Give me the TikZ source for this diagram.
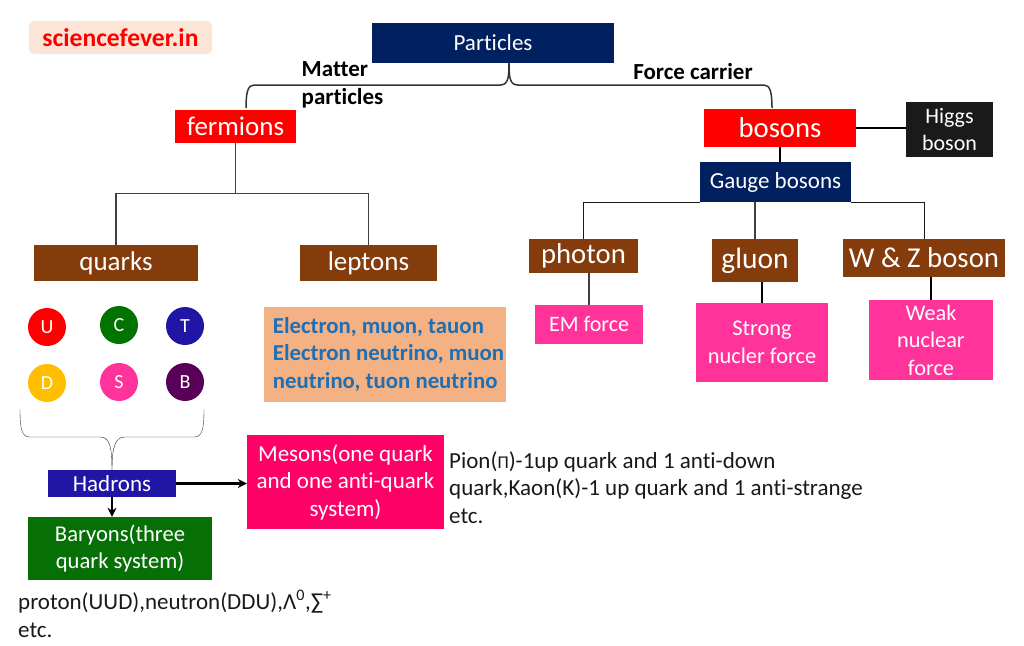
\documentclass[tikz,border=0pt]{standalone}
\usepackage{fontspec}
\usepackage{xcolor}
\setmainfont[Ligatures=NoCommon]{Carlito}
\definecolor{navy}{HTML}{002060}
\definecolor{brownbox}{HTML}{843C0C}
\definecolor{pinkbox}{HTML}{FF3399}
\definecolor{orangebox}{HTML}{F4B183}
\definecolor{bluetext}{HTML}{1F6FB5}
\definecolor{hadblue}{HTML}{2115A5}
\definecolor{bargreen}{HTML}{067006}
\definecolor{mesred}{HTML}{FF0066}
\definecolor{higgsblack}{HTML}{1A1A1A}
\definecolor{peach}{HTML}{FBE5D6}
\usetikzlibrary{arrows.meta}
\def\fs#1#2{\fontsize{#1pt}{#2pt}\selectfont}
\tikzset{bx/.style n args={4}{inner sep=0,text=white,align=center,minimum width=#1pt,minimum height=#2pt,fill=#3,font=\fs{#4}{27.5}}}
\tikzstyle{qk}=[circle,inner sep=0,minimum size=38pt,text=white,font=\fs{20}{20}]
\tikzstyle{plain}=[inner sep=0,align=left,text=black!90,font=\fs{23}{27.5}]
\tikzstyle{lab}=[inner sep=0,align=left,text=black,font=\fs{23}{27.5}\bfseries]
\tikzstyle{link}=[draw=black!75,line width=1.1pt]
\tikzstyle{curve}=[draw=black!80,line width=1.5pt]
\tikzstyle{arr}=[-{Stealth[length=9pt,width=9pt]},line width=2.4pt]
\begin{document}
\begin{tikzpicture}[x=1pt,y=-1pt]
\useasboundingbox (0,0) rectangle (1024,645);
% top of the tree
\node[bx={183}{33}{peach}{25.6},rounded corners=5pt,text=red] (site) at (120.5,37.5) {\bfseries sciencefever.in};
\node[bx={242}{40}{navy}{23}] (parts) at (493,43) {Particles};
\node[bx={121}{33}{red}{27}] (ferm) at (235.5,126.5) {fermions};
\node[bx={152}{38}{red}{28.7}] (bos) at (780,128) {bosons};
\node[bx={87}{55}{higgsblack}{22}] (higgs) at (949.5,129.5) {Higgs\\boson};
\node[bx={151}{40}{navy}{23}] (gauge) at (775.5,182) {Gauge bosons};
\node[lab] (mat) at (342.5,85) {Matter\\particles};
\node[lab] (carrier) at (693,72) {Force carrier};
\coordinate (fermtop) at (246,108);
\coordinate (bostop) at (772,108);
% second row
\node[bx={164}{36}{brownbox}{27}] (quarks) at (116,263) {quarks};
\node[bx={137}{36}{brownbox}{27}] (lept) at (368.5,263) {leptons};
\node[bx={109}{34}{brownbox}{28.7}] (phot) at (583.5,256) {photon};
\node[bx={86}{43}{brownbox}{29.5}] (gluon) at (755,260.5) {gluon};
\node[bx={162}{38}{brownbox}{28.8}] (wz) at (924,258) {W \& Z boson};
\node[bx={108}{39}{pinkbox}{22}] (em) at (589,324.5) {EM force};
\node[bx={132}{79}{pinkbox}{22.4}] (strong) at (762,342.5) {Strong\\nucler force};
\node[bx={124}{80}{pinkbox}{22.3}] (weak) at (931,340) {Weak\\nuclear\\force};
\node[bx={242}{95}{orangebox}{22.8},text=bluetext,align=left] (ltext) at (385,354.5) {\hspace*{7pt}\bfseries Electron, muon, tauon\\\hspace*{7pt}\bfseries Electron neutrino, muon\\\hspace*{7pt}\bfseries neutrino, tuon neutrino};
% quark circles
\node[qk,fill=red] (u) at (47,327) {U};
\node[qk,fill=green!45!black] (c) at (119,325) {C};
\node[qk,fill=hadblue] (t) at (185,326) {T};
\node[qk,fill=orange!25!yellow!85!red] (d) at (47,383) {D};
\node[qk,fill=pinkbox] (s) at (119,382) {S};
\node[qk,fill=violet!70!black] (b) at (185,382) {B};
% hadrons
\node[bx={128}{27}{hadblue}{23}] (had) at (112,483.5) {Hadrons};
\node[bx={184}{63}{bargreen}{22.6}] (bar) at (120,548.5) {Baryons(three\\quark system)};
\node[bx={197}{94}{mesred}{23}] (mes) at (345.5,482) {Mesons(one quark\\and one anti-quark\\system)};
\node[plain,anchor=north west] (pion) at (449,451) {Pion({\fs{18}{18}Π})-1up quark and 1 anti-down\\quark,Kaon(K)-1 up quark and 1 anti-strange\\etc.};
\node[plain,anchor=north west] (bartext) at (18,590) {proton(UUD),neutron(DDU),Λ\textsuperscript{0},∑\textsuperscript{+}\\etc.};
\coordinate (bl) at (20,409);
\coordinate (br) at (204,409);
% connectors
\draw[curve] ([xshift=16pt]parts.south) .. controls (509,78) and (508,85) .. (500,85) -- (254,85) .. controls (248,85) and (246,92) .. (fermtop);
\draw[curve] ([xshift=16pt]parts.south) .. controls (509,78) and (510,85) .. (518,85) -- (764,85) .. controls (770,85) and (772,92) .. (bostop);
\draw[link] (ferm.south) -- +(0,50) -| (quarks.north);
\draw[link] (ferm.south) -- +(0,50) -| (lept.north);
\draw[link,black] (bos.east) -- (higgs.west |- bos.east);
\draw[link,black] ([xshift=4.5pt]gauge.north) -- (bos.south);
\draw[link,black!90,semithick] (gauge.south west) -| (phot.north);
\draw[link,black!90,semithick] (gauge.south east) -| (wz.north);
\draw[link] (gluon.north |- gauge.south) -- (gluon.north);
\draw[link] (em.north) -- (em.north |- phot.south);
\draw[link,black] (strong.north) -- (strong.north |- gluon.south);
\draw[link,black] (weak.north) -- (weak.north |- wz.south);
\draw[black!80] (bl) .. controls (20,430) and (22,437) .. (30,437) -- (100,437) .. controls (109,437) and (112,445) .. (had.north);
\draw[black!80] (br) .. controls (204,430) and (202,437) .. (194,437) -- (125,437) .. controls (116,437) and (112,445) .. (had.north);
\draw[arr] (had.east) -- (mes.west |- had.east);
\draw[arr] (had.south) -- (had.south |- bar.north);
\end{tikzpicture}
\end{document}
